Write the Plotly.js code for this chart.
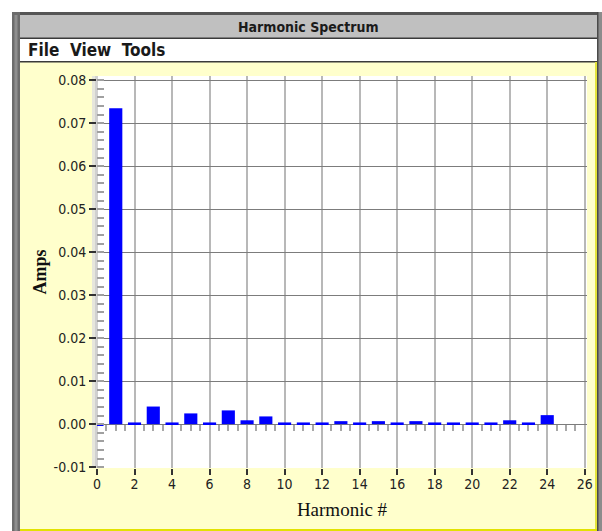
<!DOCTYPE html>
<html>
<head>
<meta charset="utf-8">
<script src="https://cdn.plot.ly/plotly-3.0.1.min.js"></script>
<style>
  html, body { margin: 0; padding: 0; background: #ffffff; }
  #chart { width: 602px; height: 531px; }
</style>
</head>
<body>
<div id="chart"></div>
<script>
// ---- data ----
const harmonics = [0, 1, 2, 3, 4, 5, 6, 7, 8, 9, 10, 11, 12, 13, 14, 15, 16, 17, 18, 19, 20, 21, 22, 23, 24, 25];
const amps = [-0.0003, 0.0735, 0.0004, 0.0041, 0.0004, 0.0025, 0.0004, 0.0032, 0.0009, 0.0018,
              0.0004, 0.0004, 0.0004, 0.0007, 0.0004, 0.0007, 0.0004, 0.0007, 0.0004, 0.0004,
              0.0004, 0.0004, 0.0009, 0.0004, 0.0021, 0.0];
const yTickVals = [-0.01, 0.00, 0.01, 0.02, 0.03, 0.04, 0.05, 0.06, 0.07, 0.08];
const yTickLabels = ["-0.01", "0.00", "0.01", "0.02", "0.03", "0.04", "0.05", "0.06", "0.07", "0.08"];
const xTickVals = [0, 2, 4, 6, 8, 10, 12, 14, 16, 18, 20, 22, 24, 26];
const xTickLabels = ["0", "2", "4", "6", "8", "10", "12", "14", "16", "18", "20", "22", "24", "26"];
const windowTitle = "Harmonic Spectrum";
const menuText = "File  View  Tools";
const xTitle = "Harmonic #";
const yTitle = "Amps";

// ---- layout geometry (pixels) ----
const W = 602, H = 531;
const M = { l: 97, r: 15, t: 76, b: 63 };
const PW = W - M.l - M.r, PH = H - M.t - M.b;
const yRange = [-0.0102, 0.081];
const xRange = [0, 26.12];
const px = x => (x - M.l) / PW;
const py = y => (M.t + PH - y) / PH;

function rect(x0, y0, x1, y1, color, layer) {
  return { type: 'rect', xref: 'paper', yref: 'paper', x0: px(x0), x1: px(x1), y0: py(y1), y1: py(y0),
           fillcolor: color, line: { width: 0 }, layer: layer || 'below' };
}

const narrow = 'Liberation Sans Narrow, DejaVu Sans Condensed, Arial Narrow, sans-serif';
const serif = 'Liberation Serif, Times New Roman, serif';

const shapes = [
  rect(20, 62, 595, 529, '#ffffcc'),            // yellow panel
  rect(M.l, M.t, M.l + PW, M.t + PH, '#ffffff'), // plot area
  rect(92, M.t, 95, M.t + PH, '#e6e6dc'),        // 3D strip
  rect(95, M.t, 98, M.t + PH, '#d0d0d0'),
  rect(12, 12, 602, 15, '#555555'),             // top border
  rect(14, 15, 597, 38, '#c0c0c0'),             // title bar
  rect(14, 37.5, 597, 39, '#3a3a3a'),
  rect(20, 39, 595, 61, '#ffffff'),             // menu bar
  rect(14, 61, 597, 62.5, '#3a3a3a'),
  rect(12, 12, 20, 531, '#6c6c6c'),             // left border
  rect(14.5, 15, 17.5, 531, '#8e8e8e'),
  rect(595, 62, 597.5, 531, '#e4e43c'),         // right yellow edge
  rect(597, 12, 602, 531, '#8c8c8c'),           // right border
  rect(597, 12, 598.5, 531, '#4a4a4a'),
  rect(20, 529, 597, 531, '#e2e200')            // bottom yellow edge
];

const annotations = [
  { xref: 'paper', yref: 'paper', x: px(308), y: py(27), text: '<b>' + windowTitle + '</b>', showarrow: false,
    xanchor: 'center', yanchor: 'middle', font: { family: narrow, size: 14, color: '#1a1a1a' } },
  { xref: 'paper', yref: 'paper', x: px(26), y: py(50), text: '<b>' + menuText.replace(/ /g, '&nbsp;') + '</b>', showarrow: false,
    xanchor: 'left', yanchor: 'middle', font: { family: narrow, size: 17, color: '#1a1a1a' } }
];

const data = [
  { type: 'bar', x: harmonics, y: amps, width: 0.7, marker: { color: '#0000ff', line: { width: 0 } },
    xaxis: 'x', yaxis: 'y', hoverinfo: 'x+y' },
  { type: 'scatter', x: [], y: [], xaxis: 'x2', yaxis: 'y', showlegend: false, hoverinfo: 'skip' }
];

const layout = {
  width: W, height: H,
  margin: { l: M.l, r: M.r, t: M.t, b: M.b, pad: 0 },
  paper_bgcolor: '#ffffff', plot_bgcolor: '#ffffff',
  showlegend: false,
  bargap: 0.3,
  xaxis: {
    range: xRange, tickmode: 'array', tickvals: xTickVals, ticktext: xTickLabels,
    ticks: 'outside', ticklen: 6, tickwidth: 1.5, tickcolor: '#333333',
    showgrid: true, gridcolor: '#b8b8b8', gridwidth: 2, zeroline: false, showline: false,
    tickfont: { family: narrow, size: 14, color: '#222222' },
    ticklabelstandoff: -3,
    title: { text: xTitle, font: { family: serif, size: 19, color: '#111111' }, standoff: 11 },
    automargin: false, fixedrange: true
  },
  xaxis2: {
    overlaying: 'x', anchor: 'free', position: (0 - yRange[0]) / (yRange[1] - yRange[0]),
    range: xRange, showgrid: false, zeroline: false, showline: false, showticklabels: false,
    tick0: 0, dtick: 2, ticks: '',
    minor: { dtick: 0.5, tick0: 0, ticks: 'outside', ticklen: 6, tickwidth: 2, tickcolor: '#a8a8a8', showgrid: false },
    fixedrange: true
  },
  yaxis: {
    range: yRange, tickmode: 'array', tickvals: yTickVals, ticktext: yTickLabels,
    ticks: 'outside', ticklen: 7, tickwidth: 1.5, tickcolor: '#333333',
    showgrid: true, gridcolor: '#7c7c7c', gridwidth: 1, zeroline: false, showline: false,
    minor: { dtick: 0.002, tick0: 0, ticks: 'inside', ticklen: 7, tickwidth: 1.5, tickcolor: '#a0a0a0', showgrid: false },
    tickfont: { family: narrow, size: 14, color: '#222222' },
    title: { text: '<b>' + yTitle + '</b>', font: { family: serif, size: 18, color: '#111111' }, standoff: 2 },
    automargin: false, fixedrange: true
  },
  shapes: shapes,
  annotations: annotations
};

Plotly.newPlot('chart', data, layout, { displayModeBar: false, staticPlot: false });
</script>
</body>
</html>
